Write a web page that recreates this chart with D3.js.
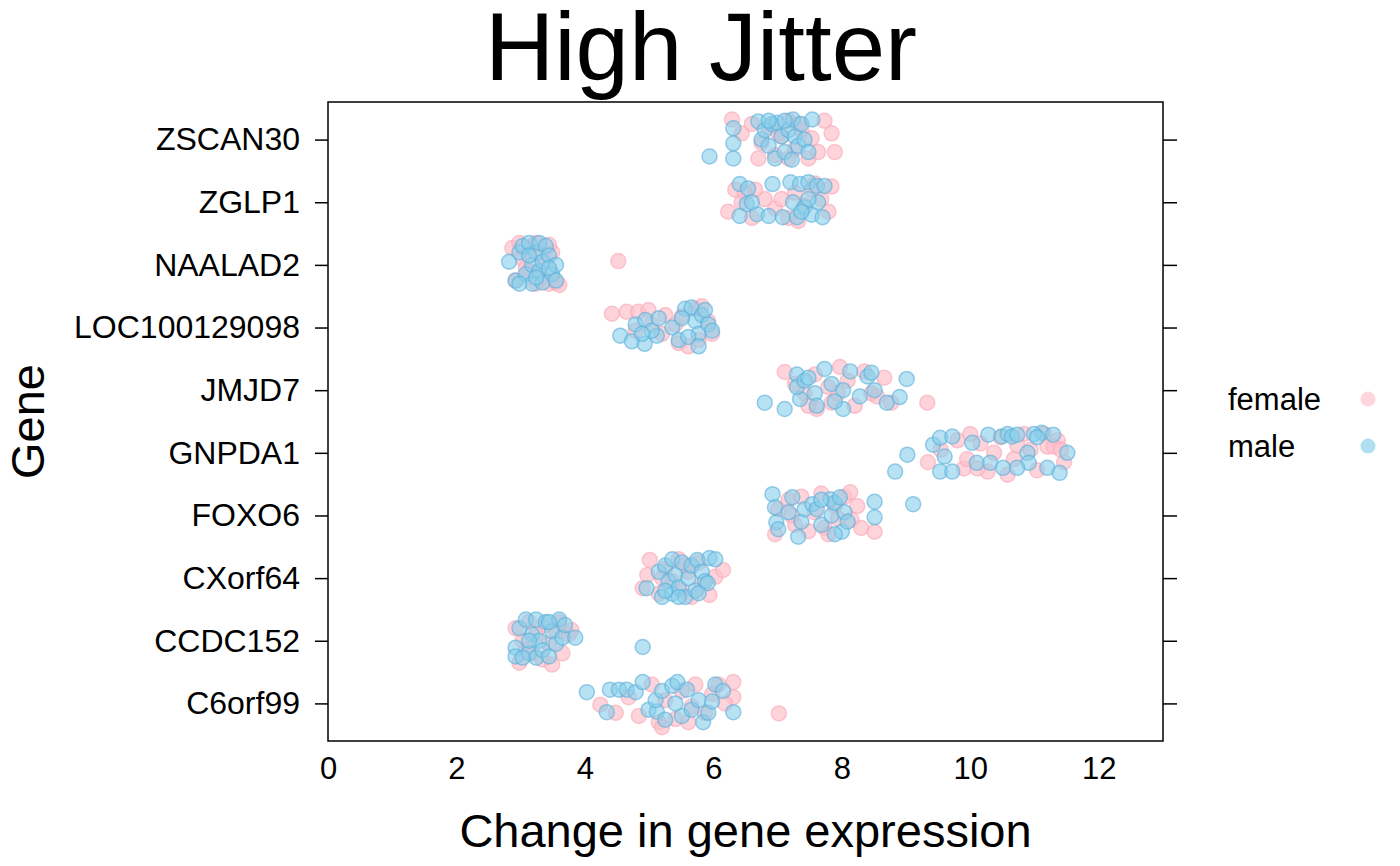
<!DOCTYPE html>
<html><head><meta charset="utf-8">
<script src="https://cdn.jsdelivr.net/npm/d3@7"></script>
<style>body{margin:0;background:#fff}svg{display:block;font-family:Arial,"Liberation Sans",Helvetica,sans-serif}</style>
</head><body><svg id="chart" width="1400" height="866"></svg>
<script>
const genes = ["C6orf99","CCDC152","CXorf64","FOXO6","GNPDA1","JMJD7","LOC100129098","NAALAD2","ZGLP1","ZSCAN30"];
const xTicks = [0,2,4,6,8,10,12];
const sexes = ["female","male"];
const sexColors = ["#FFC0CB","#87CEEB"];

// [value, vertical jitter] per gene
const femaleC6orf99 = [[4.24,-0.02],[4.48,-0.15],[4.68,0.1],[4.84,-0.2],[5.04,0.3],[5.15,-0.3],[5.25,0.05],[5.41,-0.25],[5.51,0.2],[5.66,-0.05],[5.72,0.3],[5.87,-0.15],[5.98,0.15],[6.08,0.3],[6.31,0.34],[6.31,0.1],[7.02,-0.16],[5.2,-0.38],[5.61,-0.3],[6.18,0.0]];
const maleC6orf99 = [[4.03,0.18],[4.34,-0.14],[4.39,0.22],[4.53,0.22],[4.65,0.22],[4.79,0.18],[4.9,0.34],[4.99,-0.1],[5.12,-0.13],[5.1,0.05],[5.2,0.2],[5.25,-0.26],[5.36,0.28],[5.44,0.34],[5.51,-0.2],[5.59,0.22],[5.66,-0.1],[5.77,0.05],[5.84,-0.3],[5.92,-0.15],[6.03,0.3],[6.15,0.2],[5.98,0.03],[6.31,-0.14],[5.41,0.0]];
const femaleCCDC152 = [[2.92,0.2],[2.98,-0.35],[3.03,0.0],[3.13,0.3],[3.18,-0.2],[3.24,0.1],[3.34,-0.3],[3.39,0.25],[3.44,-0.05],[3.49,-0.38],[3.55,0.15],[3.65,-0.2],[3.75,0.1],[3.79,0.17],[3.6,0.3],[3.08,-0.15]];
const maleCCDC152 = [[2.92,-0.11],[2.92,-0.25],[2.98,0.2],[3.08,0.34],[3.13,-0.2],[3.18,0.1],[3.24,-0.27],[3.24,0.34],[3.29,0.0],[3.34,-0.15],[3.39,0.3],[3.44,-0.25],[3.49,0.15],[3.55,-0.05],[3.6,0.34],[3.65,0.05],[3.69,0.25],[3.85,0.05],[4.9,-0.1],[3.13,0.0],[3.03,-0.27],[3.44,0.3]];
const femaleCXorf64 = [[4.9,-0.16],[4.97,0.05],[5.01,0.29],[5.15,-0.25],[5.25,0.15],[5.36,-0.05],[5.46,0.3],[5.51,-0.2],[5.61,0.1],[5.66,-0.3],[5.77,0.25],[5.82,-0.1],[5.94,-0.27],[6.03,0.02],[6.15,0.13],[5.2,0.0],[5.56,0.2]];
const maleCXorf64 = [[4.96,-0.16],[5.15,0.1],[5.2,-0.3],[5.25,0.2],[5.3,-0.05],[5.36,0.3],[5.36,-0.25],[5.41,0.05],[5.46,-0.15],[5.51,0.25],[5.56,-0.3],[5.61,0.0],[5.66,0.2],[5.72,-0.2],[5.75,0.29],[5.82,0.1],[5.87,-0.05],[5.94,0.32],[6.03,0.3],[5.91,-0.08],[5.77,-0.24],[5.46,-0.3],[5.25,-0.2]];
const femaleFOXO6 = [[6.96,-0.3],[7.01,0.1],[7.17,0.25],[7.27,-0.15],[7.37,0.3],[7.48,-0.25],[7.58,0.05],[7.68,0.35],[7.73,-0.2],[7.89,0.15],[7.94,-0.05],[8.04,0.3],[8.13,0.37],[8.24,0.15],[8.15,-0.07],[8.3,-0.2],[8.51,-0.26],[7.22,0.0],[7.79,-0.3]];
const maleFOXO6 = [[6.92,0.34],[6.96,0.13],[6.98,-0.11],[7.01,-0.22],[7.23,0.29],[7.17,0.05],[7.32,-0.34],[7.37,-0.1],[7.42,0.1],[7.54,0.18],[7.61,0.1],[7.68,-0.15],[7.82,0.26],[7.84,0.0],[7.89,0.2],[7.97,0.29],[8.0,-0.26],[7.89,-0.3],[8.04,0.05],[8.09,-0.1],[8.51,0.22],[8.51,-0.03],[9.11,0.18],[7.68,0.25]];
const femaleGNPDA1 = [[9.34,-0.15],[9.54,0.05],[9.8,0.2],[9.9,-0.25],[10.0,0.3],[9.95,-0.1],[10.16,0.15],[10.27,-0.3],[10.37,0.0],[10.47,0.25],[10.58,-0.35],[10.68,-0.1],[10.84,0.3],[10.94,0.05],[11.04,-0.28],[11.15,0.3],[11.2,0.1],[11.36,0.2],[11.46,-0.15],[11.3,0.1],[11.41,0.05],[10.73,0.12],[10.11,-0.25]];
const maleGNPDA1 = [[8.83,-0.3],[9.02,-0.03],[9.42,0.13],[9.53,0.24],[9.72,0.26],[9.6,-0.06],[9.53,-0.3],[9.72,-0.3],[10.03,0.16],[10.1,-0.16],[10.28,0.29],[10.31,-0.16],[10.49,0.26],[10.58,0.3],[10.65,0.26],[10.73,0.29],[10.89,0.0],[10.91,-0.16],[10.51,-0.24],[10.73,-0.24],[11.11,0.32],[11.29,0.29],[11.51,0.0],[11.2,-0.24],[11.39,-0.32],[10.99,0.3],[11.04,0.25]];
const femaleJMJD7 = [[7.11,0.29],[7.27,0.1],[7.42,-0.05],[7.58,0.25],[7.61,-0.3],[7.79,0.05],[7.84,-0.2],[7.97,0.37],[8.09,0.15],[8.2,-0.25],[8.35,0.3],[8.46,-0.05],[8.55,-0.1],[8.66,0.2],[8.77,-0.2],[9.33,-0.2],[7.48,-0.25],[7.94,-0.05]];
const maleJMJD7 = [[6.8,-0.2],[7.11,-0.3],[7.3,0.25],[7.35,-0.14],[7.3,0.05],[7.42,0.15],[7.58,-0.05],[7.61,-0.25],[7.73,0.34],[7.84,0.1],[8.02,0.0],[8.02,-0.3],[8.13,0.3],[8.28,-0.1],[8.4,0.22],[8.46,0.28],[8.51,0.0],[8.7,-0.2],[8.9,-0.11],[9.01,0.18],[7.48,0.2],[7.89,-0.18]];
const femaleLOC100129098 = [[4.42,0.22],[4.65,0.25],[4.83,0.25],[4.99,0.28],[5.25,0.2],[5.41,0.05],[5.46,-0.25],[5.61,-0.3],[5.72,0.3],[5.82,0.34],[5.92,0.1],[5.98,-0.1],[5.2,-0.1],[5.04,0.05],[5.77,-0.2],[4.79,-0.05],[5.51,0.18]];
const maleLOC100129098 = [[4.55,-0.13],[4.73,-0.22],[4.93,-0.26],[5.12,-0.13],[4.79,0.05],[4.94,0.12],[5.04,-0.05],[5.15,0.15],[4.89,-0.1],[5.36,0.0],[5.46,-0.2],[5.56,0.3],[5.66,0.32],[5.72,0.1],[5.77,-0.1],[5.82,0.2],[5.92,0.05],[5.98,-0.05],[5.61,-0.15],[5.77,-0.3],[5.51,0.15],[5.87,0.28]];
const femaleNAALAD2 = [[2.87,0.27],[2.98,0.35],[3.03,0.1],[3.13,-0.1],[3.18,0.3],[3.24,-0.3],[3.29,0.15],[3.34,-0.2],[3.39,0.05],[3.44,-0.3],[3.49,0.2],[3.55,-0.28],[3.44,0.32],[2.92,-0.25],[3.08,-0.05],[3.6,-0.32],[4.52,0.06],[3.24,0.35]];
const maleNAALAD2 = [[2.82,0.05],[2.92,-0.25],[2.98,0.2],[3.03,0.3],[3.08,-0.15],[3.13,0.35],[3.18,0.0],[3.18,-0.3],[3.24,0.2],[3.29,0.35],[3.29,-0.1],[3.34,0.05],[3.34,-0.28],[3.39,0.3],[3.44,0.15],[3.49,-0.15],[3.55,0.0],[3.13,0.15],[2.98,-0.3],[3.44,-0.05],[3.24,-0.2],[3.55,-0.25]];
const femaleZGLP1 = [[6.34,0.2],[6.23,-0.15],[6.44,0.0],[6.6,-0.25],[6.8,0.05],[6.96,-0.1],[7.06,0.05],[7.17,-0.25],[7.27,0.15],[7.42,-0.05],[7.58,0.3],[7.68,0.05],[7.79,-0.15],[7.84,0.25],[6.65,0.2],[7.32,-0.3],[7.53,0.2],[6.49,0.15]];
const maleZGLP1 = [[6.41,0.29],[6.54,0.22],[6.92,0.29],[7.2,0.32],[7.35,0.29],[7.48,0.32],[7.61,0.26],[7.73,0.26],[6.52,-0.03],[6.41,-0.22],[6.68,-0.19],[6.86,-0.22],[7.08,-0.24],[7.24,0.0],[7.3,-0.24],[7.42,-0.08],[7.53,-0.2],[7.7,-0.24],[7.63,0.0],[7.48,0.05],[6.6,0.0],[7.37,-0.15]];
const femaleZSCAN30 = [[6.29,0.32],[6.44,0.1],[6.6,0.25],[6.75,-0.05],[6.86,0.2],[6.96,-0.25],[7.06,0.05],[7.17,0.3],[7.27,-0.15],[7.37,0.15],[7.48,-0.3],[7.53,0.02],[7.63,-0.2],[7.73,0.3],[7.84,0.1],[7.89,-0.2],[6.7,-0.3],[7.17,-0.3],[7.32,0.25],[7.01,0.1]];
const maleZSCAN30 = [[5.94,-0.27],[6.31,0.18],[6.31,-0.06],[6.31,-0.3],[6.7,0.29],[6.75,0.0],[6.8,0.15],[6.86,-0.1],[6.91,0.25],[6.96,-0.3],[6.99,0.27],[7.06,0.05],[7.11,-0.2],[7.17,0.15],[7.24,0.32],[7.22,-0.32],[7.27,0.05],[7.32,-0.1],[7.37,0.25],[7.42,0.0],[7.54,0.32],[7.48,-0.2],[6.86,0.3],[7.11,0.3]];

const femaleByGene = [femaleC6orf99,femaleCCDC152,femaleCXorf64,femaleFOXO6,femaleGNPDA1,femaleJMJD7,femaleLOC100129098,femaleNAALAD2,femaleZGLP1,femaleZSCAN30];
const maleByGene = [maleC6orf99,maleCCDC152,maleCXorf64,maleFOXO6,maleGNPDA1,maleJMJD7,maleLOC100129098,maleNAALAD2,maleZGLP1,maleZSCAN30];

const svg = d3.select("#chart");
const L = 328, R = 1163, T = 102, B = 741;
const x = d3.scaleLinear().domain([0,13]).range([L,R]);
const y = d3.scaleLinear().domain([0.4,10.6]).range([B,T]);
const FONT = "Arial, 'Liberation Sans', sans-serif";

const points = [];
[femaleByGene, maleByGene].forEach((arr, s) => {
  arr.forEach((list, g) => list.forEach(([v,j]) => points.push({sex:s, gene:g, v, j})));
});

// points
svg.append("g").selectAll("circle").data(points).join("circle")
  .attr("cx", d => x(d.v))
  .attr("cy", d => y(d.gene + 1 + d.j))
  .attr("r", 7.5)
  .attr("fill", d => sexColors[d.sex])
  .attr("fill-opacity", d => d.sex ? 0.6 : 0.7)
  .attr("stroke", d => d.sex ? "#5BAFD8" : "#F7A8B8")
  .attr("stroke-opacity", 0.6)
  .attr("stroke-width", 1.5);

// frame
svg.append("rect").attr("x",L).attr("y",T).attr("width",R-L).attr("height",B-T)
  .attr("fill","none").attr("stroke","#000").attr("stroke-width",1.5);

// y axes (left with labels, right ticks only)
const yBand = d3.scaleOrdinal().domain(genes).range(genes.map((g,i)=>y(i+1)));
const yl = svg.append("g").attr("transform",`translate(${L},0)`)
  .call(d3.axisLeft(yBand).tickSize(13).tickPadding(15));
yl.select(".domain").remove();
yl.selectAll("line").attr("stroke","#000").attr("stroke-width",1.5);
yl.selectAll("text").attr("font-size",32).attr("fill","#000").attr("font-family",FONT);
const yr = svg.append("g").attr("transform",`translate(${R},0)`)
  .call(d3.axisRight(yBand).tickSize(14).tickFormat(""));
yr.select(".domain").remove();
yr.selectAll("line").attr("stroke","#000").attr("stroke-width",1.5);

// x axis labels (no tick marks)
const xa = svg.append("g").attr("transform",`translate(0,${B})`)
  .call(d3.axisBottom(x).tickValues(xTicks).tickSize(0).tickPadding(16));
xa.select(".domain").remove();
xa.selectAll("text").attr("font-size",31).attr("fill","#000").attr("font-family",FONT);

// titles
svg.append("text").attr("x",701).attr("y",80).attr("text-anchor","middle")
  .attr("font-size",96).attr("font-family",FONT).text("High Jitter");
svg.append("text").attr("x",(L+R)/2).attr("y",847).attr("text-anchor","middle")
  .attr("font-size",47).attr("font-family",FONT).text("Change in gene expression");
svg.append("text").attr("transform",`translate(44,${(T+B)/2}) rotate(-90)`).attr("text-anchor","middle")
  .attr("font-size",47).attr("font-family",FONT).text("Gene");

// legend
const lg = svg.append("g");
sexes.forEach((s,i) => {
  const cy = 399 + i*47;
  lg.append("text").attr("x",1228).attr("y",cy+11).attr("font-size",31).attr("font-family",FONT).text(s);
  lg.append("circle").attr("cx",1368).attr("cy",cy).attr("r",7.5)
    .attr("fill",sexColors[i]).attr("fill-opacity",0.65);
});
</script></body></html>
